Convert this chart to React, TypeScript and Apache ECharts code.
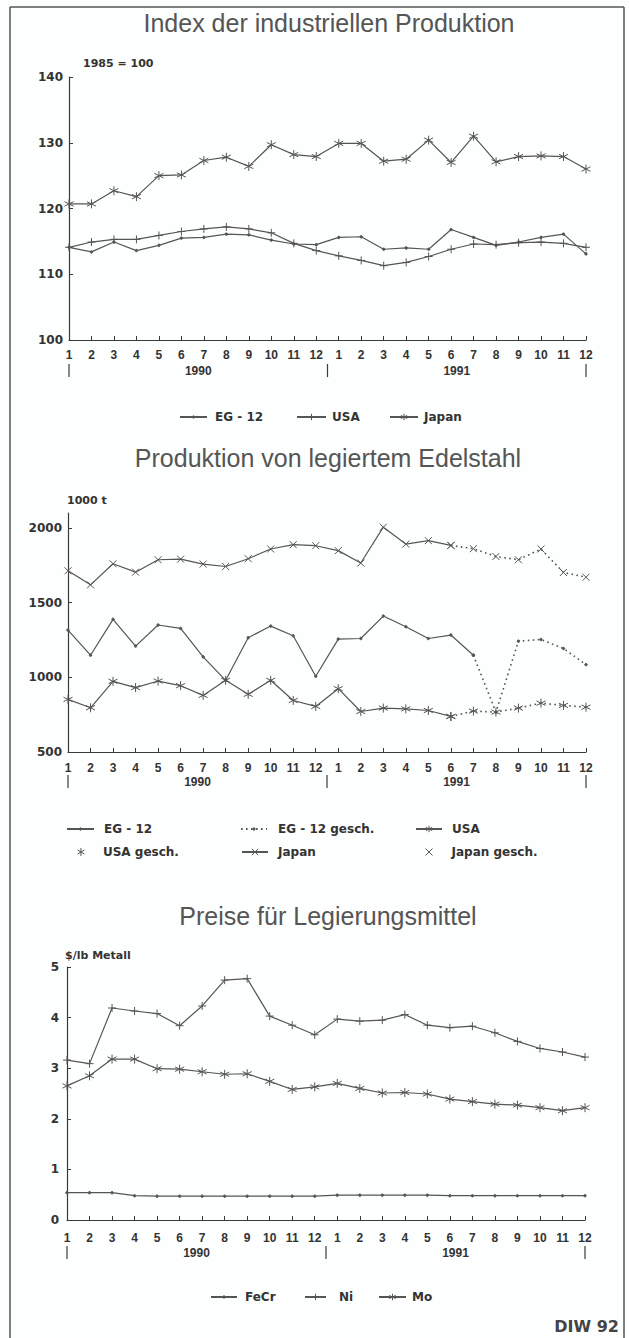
import { useEffect, useRef } from 'react';
import * as echarts from 'echarts';

// ---------- data ----------
const months = ['1','2','3','4','5','6','7','8','9','10','11','12','1','2','3','4','5','6','7','8','9','10','11','12'];
const yearLabels = ['1990', '1991'];

// Index der industriellen Produktion (1985 = 100)
const eg12Index = [114.1, 113.4, 114.9, 113.6, 114.4, 115.5, 115.6, 116.1, 116.0, 115.2, 114.6, 114.5, 115.6, 115.7, 113.8, 114.0, 113.8, 116.8, 115.6, 114.4, 114.9, 115.6, 116.1, 113.1];
const usaIndex = [114.1, 114.9, 115.3, 115.3, 115.9, 116.5, 116.9, 117.2, 116.9, 116.3, 114.7, 113.6, 112.8, 112.1, 111.3, 111.8, 112.7, 113.8, 114.6, 114.5, 114.8, 114.9, 114.7, 114.1];
const japanIndex = [120.7, 120.7, 122.7, 121.8, 125.0, 125.1, 127.3, 127.8, 126.4, 129.7, 128.2, 127.9, 129.9, 129.9, 127.2, 127.5, 130.4, 127.0, 131.0, 127.1, 127.9, 128.0, 127.9, 126.0];
const indexTicks = [100, 110, 120, 130, 140];

// Produktion von legiertem Edelstahl (1000 t)
const eg12Steel = [1316, 1148, 1388, 1209, 1350, 1327, 1137, 980, 1265, 1343, 1278, 1007, 1256, 1260, 1410, 1339, 1260, 1283, 1148, 767, 1242, 1253, 1193, 1085];
const usaSteel = [852, 796, 973, 931, 975, 944, 879, 980, 886, 980, 845, 805, 924, 771, 794, 789, 778, 738, 774, 767, 794, 827, 812, 800];
const japanSteel = [1713, 1619, 1760, 1704, 1787, 1791, 1758, 1742, 1794, 1859, 1888, 1881, 1848, 1765, 2005, 1892, 1915, 1883, 1861, 1809, 1787, 1859, 1702, 1670];
// last index of actual (non-estimated) values
const eg12LastActual = 18;
const usaLastActual = 17;
const japanLastActual = 17;
const steelTicks = [500, 1000, 1500, 2000];

// Preise für Legierungsmittel ($/lb Metall)
const feCr = [0.54, 0.54, 0.54, 0.48, 0.47, 0.47, 0.47, 0.47, 0.47, 0.47, 0.47, 0.47, 0.49, 0.49, 0.49, 0.49, 0.49, 0.48, 0.48, 0.48, 0.48, 0.48, 0.48, 0.48];
const ni = [3.16, 3.09, 4.19, 4.13, 4.08, 3.84, 4.23, 4.74, 4.77, 4.03, 3.85, 3.66, 3.97, 3.93, 3.95, 4.06, 3.85, 3.80, 3.83, 3.70, 3.53, 3.39, 3.32, 3.22];
const mo = [2.65, 2.85, 3.18, 3.18, 2.99, 2.98, 2.93, 2.88, 2.89, 2.74, 2.58, 2.63, 2.70, 2.60, 2.51, 2.52, 2.49, 2.39, 2.34, 2.29, 2.27, 2.22, 2.16, 2.22];
const priceTicks = [0, 1, 2, 3, 4, 5];

// ---------- styling helpers ----------
const LINE = '#555';
const AXIS = '#3a3a3a';
const TEXT = '#333';
const plusSym = 'path://M5,0L5,10M0,5L10,5';
const starSym = 'path://M5,0L5,10M0.67,2.5L9.33,7.5M0.67,7.5L9.33,2.5';
const crossSym = 'path://M0,0L10,10M0,10L10,0';

const upTo = (arr: number[], k: number) => arr.map((v, i) => (i <= k ? v : null));
const fromIdx = (arr: number[], k: number) => arr.map((v, i) => (i >= k ? v : null));

function lineSeries(name: string, data: (number | null)[], gi: number, symbol: string, size: number, dotted = false) {
  return {
    type: 'line', name, data, xAxisIndex: gi, yAxisIndex: gi,
    symbol, symbolSize: size, showSymbol: true, showAllSymbol: true, connectNulls: false,
    lineStyle: { color: LINE, width: dotted ? 1.6 : 1.2, type: dotted ? [1.6, 3.4] : 'solid' },
    itemStyle: { color: LINE, borderColor: LINE, borderWidth: 1 },
    emphasis: { disabled: true }, silent: true,
  };
}

function xAxis(gi: number, margin: number) {
  return {
    type: 'category', gridIndex: gi, data: months, boundaryGap: false,
    axisLine: { show: true, lineStyle: { color: AXIS, width: 1.2 } },
    axisTick: { show: true, inside: true, length: 4, interval: 0, lineStyle: { color: AXIS } },
    axisLabel: { show: true, interval: 0, margin, color: TEXT, fontSize: 12, fontWeight: 'bold', fontFamily: '"Liberation Sans", Arial, sans-serif' },
    splitLine: { show: false },
  };
}

function yAxis(gi: number, min: number, max: number, interval: number, margin: number, ticks: number[]) {
  return {
    type: 'value', gridIndex: gi, min, max, interval,
    axisLine: { show: true, lineStyle: { color: AXIS, width: 1.2 } },
    axisTick: { show: true, inside: true, length: 4, lineStyle: { color: AXIS }, customValues: ticks },
    axisLabel: {
      margin, color: TEXT, fontSize: 12, fontWeight: 'bold', fontFamily: '"DejaVu Sans", sans-serif',
      customValues: ticks,
      formatter: (v: number) => (ticks.indexOf(v) >= 0 ? String(v) : ''),
    },
    splitLine: { show: false },
  };
}

function legendItem(name: string, left: number, yc: number, iconW: number, textLeft: number, icon?: string, iconH = 8) {
  return {
    left, top: yc - 7, padding: 0, itemGap: 0, itemWidth: iconW, itemHeight: iconH,
    selectedMode: false,
    data: [icon ? { name, icon } : { name }],
    formatter: (n: string) => n.replace(/#\d$/, ''),
    itemStyle: { color: LINE, borderColor: LINE, borderWidth: 1 },
    textStyle: {
      color: TEXT, fontSize: 12, fontWeight: 'bold', fontFamily: '"DejaVu Sans", sans-serif', lineHeight: 14,
      padding: [0, 0, 0, Math.max(0, textLeft - (left + iconW) - 5)],
    },
  };
}

const text = (x: number, y: number, t: string, font: string, fill = TEXT, align = 'left') => ({
  type: 'text', x, y, silent: true,
  style: { text: t, font, fill, textAlign: align, textVerticalAlign: 'middle', align, verticalAlign: 'middle' },
});
const seg = (x1: number, y1: number, x2: number, y2: number, w = 1.2, c = AXIS) => ({
  type: 'line', silent: true, shape: { x1, y1, x2, y2 }, style: { stroke: c, lineWidth: w },
});

const TITLE_FONT = 'normal 25px "Liberation Sans", Arial, sans-serif';
const UNIT_FONT = 'bold 11px "DejaVu Sans", sans-serif';
const YEAR_FONT = 'bold 12px "Liberation Sans", Arial, sans-serif';

function yearRow(xs: number[], y: number) {
  return [
    seg(xs[0], y - 7, xs[0], y + 6),
    seg(xs[1], y - 7, xs[1], y + 6),
    seg(xs[2], y - 7, xs[2], y + 6),
    text((xs[0] + xs[1]) / 2, y, yearLabels[0], YEAR_FONT, TEXT, 'center'),
    text((xs[1] + xs[2]) / 2, y, yearLabels[1], YEAR_FONT, TEXT, 'center'),
  ];
}

export default function App() {
  const ref = useRef<HTMLDivElement>(null);
  useEffect(() => {
    if (!ref.current) return;
    const chart = echarts.init(ref.current, null, { renderer: 'svg' });
    const option = {
      animation: false,
      backgroundColor: '#fdfefe',
      textStyle: { fontFamily: '"Liberation Sans", Arial, sans-serif' },
      grid: [
        { left: 69, top: 77, width: 517, height: 263, containLabel: false, outerBoundsMode: 'none' },
        { left: 68, top: 513, width: 518, height: 239, containLabel: false, outerBoundsMode: 'none' },
        { left: 67, top: 967, width: 518, height: 253, containLabel: false, outerBoundsMode: 'none' },
      ],
      xAxis: [xAxis(0, 9), xAxis(1, 10), xAxis(2, 12)],
      yAxis: [
        yAxis(0, 100, 140, 10, 6, indexTicks),
        yAxis(1, 500, 2100, 500, 6, steelTicks),
        yAxis(2, 0, 5, 1, 8, priceTicks),
      ],
      legend: [
        legendItem('EG - 12', 179, 417, 27, 214, undefined, 3),
        legendItem('USA', 296, 417, 29, 331),
        legendItem('Japan', 389, 417, 28, 423),

        legendItem('EG - 12#2', 66, 829, 27, 103, undefined, 3),
        legendItem('EG - 12 gesch.', 240, 829, 26, 277, undefined, 3),
        legendItem('USA#2', 415, 829, 26, 451),
        legendItem('USA gesch.', 77, 852, 8, 103, starSym),
        legendItem('Japan#2', 241, 852, 26, 277),
        legendItem('Japan gesch.', 425, 852, 7, 451, crossSym),

        legendItem('FeCr', 210, 1297, 26, 244, undefined, 3),
        legendItem('Ni', 304, 1297, 21, 338),
        legendItem('Mo', 378, 1297, 27, 411),
      ],
      series: [
        lineSeries('EG - 12', eg12Index, 0, 'circle', 2.5),
        lineSeries('USA', usaIndex, 0, plusSym, 8),
        lineSeries('Japan', japanIndex, 0, starSym, 9),

        lineSeries('EG - 12#2', upTo(eg12Steel, eg12LastActual), 1, 'circle', 2.5),
        lineSeries('EG - 12 gesch.', fromIdx(eg12Steel, eg12LastActual), 1, 'circle', 2.5, true),
        lineSeries('USA#2', upTo(usaSteel, usaLastActual), 1, starSym, 9),
        lineSeries('USA gesch.', fromIdx(usaSteel, usaLastActual), 1, starSym, 9, true),
        lineSeries('Japan#2', upTo(japanSteel, japanLastActual), 1, crossSym, 7),
        lineSeries('Japan gesch.', fromIdx(japanSteel, japanLastActual), 1, crossSym, 7, true),

        lineSeries('FeCr', feCr, 2, 'circle', 2.5),
        lineSeries('Ni', ni, 2, plusSym, 8),
        lineSeries('Mo', mo, 2, starSym, 9),
      ],
      graphic: [
        // frame
        seg(10, 7, 624, 7, 1.5, '#555'),
        seg(10, 7, 10, 1338, 1.5, '#555'),
        seg(624, 7, 624, 1338, 1.5, '#555'),
        // titles
        text(329, 23, 'Index der industriellen Produktion', TITLE_FONT, '#555', 'center'),
        text(328, 458, 'Produktion von legiertem Edelstahl', TITLE_FONT, '#555', 'center'),
        text(328, 916, 'Preise für Legierungsmittel', TITLE_FONT, '#555', 'center'),
        // units
        text(83, 63, '1985 = 100', UNIT_FONT),
        text(67, 500, '1000 t', UNIT_FONT),
        text(65, 955, '$/lb Metall', UNIT_FONT),
        // year rows
        ...yearRow([69, 327.5, 586], 371),
        ...yearRow([68, 327, 586], 782),
        ...yearRow([67, 326, 585], 1253),
        // source
        text(619, 1326, 'DIW 92', 'bold 16px "DejaVu Sans", sans-serif', '#444', 'right'),
      ],
    };
    chart.setOption(option as any);
    return () => chart.dispose();
  }, []);
  return (
    <div
      ref={ref}
      style={{ position: 'absolute', left: 0, top: 0, width: 629, height: 1338, background: '#fdfefe' }}
    />
  );
}
